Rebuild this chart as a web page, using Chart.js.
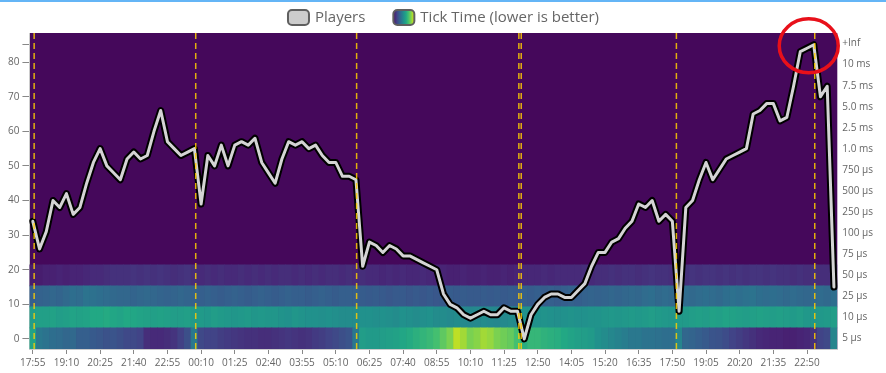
<!DOCTYPE html>
<html>
<head>
<meta charset="utf-8">
<script src="https://cdn.jsdelivr.net/npm/chart.js@4.4.1/dist/chart.umd.min.js"></script>
<style>
    html, body { margin: 0; padding: 0; background: #fff; }
    #wrap { position: relative; width: 886px; height: 373px; }
    #wrap::before { content: ""; position: absolute; left: 0; top: 0; width: 100%; height: 2px; background: #64b5f6; }
    canvas { display: block; }
</style>
</head>
<body>
<div id="wrap"><canvas id="chart" width="886" height="373"></canvas></div>
<script>
(function () {
    "use strict";

    // one point = 15 min, a time label every 5 points
    const timeLabels = ["17:55", "19:10", "20:25", "21:40", "22:55", "00:10", "01:25", "02:40",
        "03:55", "05:10", "06:25", "07:40", "08:55", "10:10", "11:25", "12:50", "14:05",
        "15:20", "16:35", "17:50", "19:05", "20:20", "21:35", "22:50"];

    const players = [
        34, 26, 31, 40, 38, 42, 36, 38, 45, 51,
        55, 50, 48, 46, 52, 54, 52, 53, 60, 66,
        57, 55, 53, 54, 55, 39, 53, 50, 56, 50,
        56, 57, 56, 58, 51, 48, 45, 52, 57, 56,
        57, 55, 56, 53, 51, 51, 47, 47, 46, 21,
        28, 27, 25, 27, 26, 24, 24, 23, 22, 21,
        20, 13, 10, 9, 7, 6, 7, 8, 7, 7,
        9, 8, 8, 0, 7, 10, 12, 13, 13, 12,
        12, 14, 16, 21, 25, 25, 28, 29, 32, 34,
        39, 38, 40, 34, 36, 34, 8, 38, 40, 46,
        51, 46, 49, 52, 53, 54, 55, 65, 66, 68,
        68, 63, 64, 73, 83, 84, 85, 70, 73, 15,
    ];
    const playerTicks = [0, 10, 20, 30, 40, 50, 60, 70, 80];

    // tick time buckets, bottom to top
    const bucketLabels = ["5 µs", "10 µs", "25 µs", "50 µs", "75 µs", "100 µs", "250 µs", "500 µs",
        "750 µs", "1.0 ms", "2.5 ms", "5.0 ms", "7.5 ms", "10 ms", "+Inf"];

    // heat intensity (0-100) per point for the lowest buckets, the rest are ~0
    const heat5us = [
        58, 40, 38, 36, 35, 33, 34, 30, 30, 28,
        27, 25, 26, 24, 22, 22, 20, 13, 12, 12,
        13, 15, 19, 24, 40, 22, 20, 20, 18, 17,
        16, 15, 14, 14, 13, 13, 14, 15, 16, 15,
        14, 15, 17, 18, 20, 22, 24, 26, 40, 55,
        54, 54, 55, 56, 57, 59, 61, 63, 65, 67,
        70, 75, 80, 90, 86, 80, 82, 86, 84, 80,
        78, 76, 70, 62, 66, 66, 64, 63, 62, 60,
        58, 56, 55, 54, 50, 48, 46, 44, 42, 40,
        40, 38, 38, 37, 36, 36, 45, 33, 32, 30,
        28, 26, 25, 23, 20, 18, 16, 14, 12, 11,
        10, 10, 9, 9, 10, 11, 14, 20, 22, 45,
    ];
    const heat10us = [
        55, 56, 56, 57, 55, 56, 58, 57, 58, 60,
        60, 61, 59, 58, 60, 59, 58, 57, 56, 57,
        56, 55, 55, 56, 54, 54, 53, 55, 54, 53,
        52, 53, 54, 52, 53, 52, 52, 51, 50, 52,
        51, 50, 50, 49, 50, 49, 48, 48, 48, 50,
        50, 49, 50, 49, 48, 50, 49, 48, 49, 50,
        48, 48, 47, 48, 47, 46, 47, 48, 47, 46,
        47, 48, 47, 50, 50, 50, 51, 50, 49, 50,
        51, 50, 50, 51, 51, 52, 53, 52, 53, 54,
        53, 54, 55, 54, 53, 52, 54, 54, 55, 56,
        55, 57, 56, 58, 57, 56, 55, 56, 57, 56,
        55, 56, 55, 54, 55, 53, 52, 53, 54, 55,
    ];
    const heat25us = [
        30, 31, 32, 33, 32, 34, 36, 35, 38, 37,
        36, 35, 34, 33, 33, 32, 33, 34, 33, 32,
        31, 32, 33, 32, 31, 30, 31, 30, 29, 30,
        31, 30, 29, 30, 31, 30, 29, 30, 31, 30,
        30, 29, 30, 31, 30, 29, 30, 30, 30, 29,
        28, 29, 28, 27, 28, 28, 27, 28, 27, 28,
        27, 28, 29, 28, 29, 28, 28, 29, 28, 29,
        28, 29, 28, 30, 29, 30, 29, 30, 29, 30,
        31, 30, 31, 32, 31, 32, 33, 32, 33, 34,
        33, 35, 36, 34, 35, 34, 36, 35, 34, 35,
        36, 35, 34, 36, 37, 36, 37, 38, 36, 35,
        36, 35, 34, 35, 34, 33, 34, 35, 34, 36,
    ];
    const heat50us = [
        8, 8, 9, 9, 10, 9, 10, 10, 11, 12,
        12, 13, 14, 14, 14, 15, 14, 15, 14, 15,
        14, 13, 14, 15, 13, 12, 13, 12, 13, 12,
        12, 13, 12, 13, 12, 13, 12, 13, 13, 12,
        13, 12, 13, 12, 13, 13, 12, 13, 12, 13,
        12, 12, 11, 12, 11, 12, 11, 11, 12, 11,
        10, 10, 9, 9, 10, 9, 9, 10, 9, 9,
        10, 9, 10, 11, 11, 11, 12, 11, 12, 12,
        12, 12, 13, 12, 13, 13, 14, 13, 14, 14,
        13, 14, 15, 14, 14, 13, 14, 14, 15, 14,
        15, 15, 14, 15, 14, 15, 14, 15, 15, 14,
        15, 14, 14, 13, 14, 13, 14, 13, 13, 14,
    ];
    const heatRows = [heat5us, heat10us, heat25us, heat50us];

    // server events (point index)
    const markers = [0.2, 24.2, 48.1, 72.2, 72.55, 95.6, 116.15];

    // viridis
    const viridisStops = ["#440154", "#482475", "#414487", "#355f8d", "#2a788e", "#21918c",
        "#22a884", "#44bf70", "#7ad151", "#bddf26", "#fde725"];
    const rgb = h => [1, 3, 5].map(i => parseInt(h.substr(i, 2), 16));

    function viridis(t) {
        t = Math.max(0, Math.min(1, t)) * (viridisStops.length - 1);
        const i = Math.min(Math.floor(t), viridisStops.length - 2);
        const f = t - i;
        const a = rgb(viridisStops[i]), b = rgb(viridisStops[i + 1]);
        return "rgb(" + a.map((v, k) => Math.round(v + (b[k] - v) * f)).join(",") + ")";
    }

    const peak = Math.max(...players);
    const peakIdx = players.indexOf(peak);

    const heatDatasets = heatRows.map((row, k) => ({
        type: "bar",
        label: bucketLabels[k],
        data: row.map(() => [k, k + 1]),
        yAxisID: "yHeat",
        grouped: false,
        barPercentage: 1,
        categoryPercentage: 1,
        borderWidth: 0,
        backgroundColor: ctx => viridis(row[ctx.dataIndex] / 100),
        order: 10,
    }));

    // background of the empty buckets
    const heatBase = {
        id: "heatBase",
        beforeDraw(chart) {
            const { ctx, chartArea: a } = chart;
            ctx.save();
            ctx.fillStyle = viridis(0.02);
            ctx.fillRect(a.left, a.top, a.right - a.left, a.bottom - a.top);
            ctx.restore();
        },
    };

    const eventMarks = {
        id: "eventMarks",
        afterDatasetsDraw(chart) {
            const { ctx, chartArea: a, scales } = chart;
            ctx.save();
            ctx.strokeStyle = "rgba(255, 206, 0, 0.85)";
            ctx.lineWidth = 1.5;
            ctx.setLineDash([6, 4]);
            markers.forEach(m => {
                const x = scales.x.getPixelForValue(m);
                ctx.beginPath();
                ctx.moveTo(x, a.top);
                ctx.lineTo(x, a.bottom);
                ctx.stroke();
            });
            ctx.setLineDash([]);
            // red circle round the peak
            ctx.strokeStyle = "#e8101a";
            ctx.lineWidth = 3.5;
            ctx.beginPath();
            ctx.ellipse(scales.x.getPixelForValue(peakIdx) - 5, scales.yPlayers.getPixelForValue(peak) + 1,
                29.5, 27, 0, 0, Math.PI * 2);
            ctx.stroke();
            ctx.restore();
        },
    };

    const topLegend = {
        id: "topLegend",
        afterDraw(chart) {
            const ctx = chart.ctx;
            const items = ["Players", "Tick Time (lower is better)"];
            const bw = 23, bh = 15, gap = 5, itemGap = 27, cy = 17.5;
            ctx.save();
            ctx.font = '15px "Open Sans"';
            const widths = items.map(t => ctx.measureText(t).width);
            const total = widths.reduce((s, w) => s + bw + gap + w, 0) + itemGap;
            let x = (chart.width - total) / 2;
            items.forEach((t, i) => {
                ctx.beginPath();
                ctx.roundRect(x + 1, cy - bh / 2, bw - 2, bh, 4);
                if (i === 0) {
                    ctx.fillStyle = "#cccccc";
                } else {
                    const g = ctx.createLinearGradient(x, 0, x + bw, 0);
                    viridisStops.forEach((c, k) => g.addColorStop(k / (viridisStops.length - 1), c));
                    ctx.fillStyle = g;
                }
                ctx.fill();
                ctx.lineWidth = 2;
                ctx.strokeStyle = "#5f5f5f";
                ctx.stroke();
                ctx.fillStyle = "#666";
                ctx.textBaseline = "middle";
                ctx.fillText(t, x + bw + gap, cy);
                x += bw + gap + widths[i] + itemGap;
            });
            ctx.restore();
        },
    };

    Chart.defaults.font.family = '"Open Sans", sans-serif';
    Chart.defaults.font.size = 10;
    Chart.defaults.color = "#666";

    new Chart(document.getElementById("chart").getContext("2d"), {
        type: "bar",
        data: {
            labels: players.map((_, i) => i),
            datasets: [
                {
                    type: "line",
                    label: "Players",
                    data: players,
                    yAxisID: "yPlayers",
                    borderColor: "#d4d4d4",
                    borderWidth: 3,
                    pointRadius: 0,
                    tension: 0,
                    borderJoinStyle: "round",
                    borderCapStyle: "round",
                    order: 1,
                },
                {
                    type: "line",
                    label: "outline",
                    data: players,
                    yAxisID: "yPlayers",
                    borderColor: "#000",
                    borderWidth: 7,
                    pointRadius: 0,
                    tension: 0,
                    borderJoinStyle: "round",
                    borderCapStyle: "round",
                    order: 2,
                },
                ...heatDatasets,
            ],
        },
        options: {
            responsive: false,
            animation: false,
            events: [],
            layout: { padding: { top: 33, left: 5, right: 8, bottom: 1 } },
            plugins: { legend: { display: false }, tooltip: { enabled: false } },
            scales: {
                x: {
                    offset: true,
                    grid: { offset: false, drawOnChartArea: false, tickLength: 5, color: "#888" },
                    border: { color: "#ccc" },
                    ticks: {
                        autoSkip: false,
                        maxRotation: 0,
                        padding: 3,
                        callback: (v, i) => (i % 5 === 0 ? timeLabels[i / 5] : null),
                    },
                },
                yPlayers: {
                    type: "linear",
                    position: "left",
                    min: -2.9,
                    max: 88.4,
                    afterBuildTicks: s => { s.ticks = [...playerTicks, peak].map(value => ({ value })); },
                    ticks: { padding: 3, callback: v => (playerTicks.includes(v) ? v : "") },
                    grid: { drawOnChartArea: false, tickLength: 7, color: "#888" },
                    border: { color: "#ccc" },
                },
                yHeat: {
                    type: "linear",
                    position: "right",
                    min: 0,
                    max: bucketLabels.length,
                    afterBuildTicks: s => { s.ticks = bucketLabels.map((_, i) => ({ value: i + 0.5 })); },
                    ticks: { padding: 5, callback: (v, i) => bucketLabels[i] },
                    grid: { display: false, drawTicks: false },
                    border: { display: false },
                },
            },
        },
        plugins: [heatBase, eventMarks, topLegend],
    });
})();
</script>
</body>
</html>
